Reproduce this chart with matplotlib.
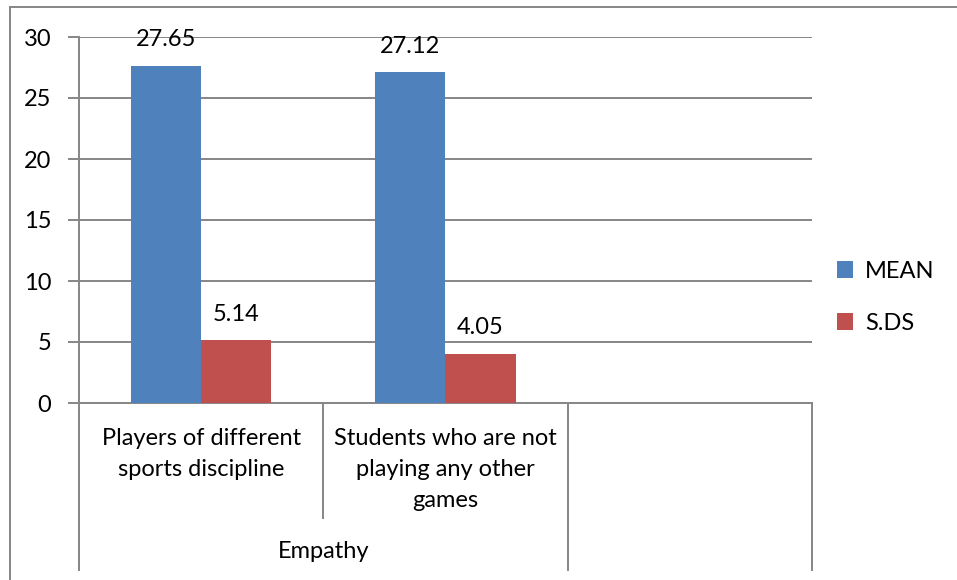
import matplotlib
matplotlib.use("Agg")
import matplotlib.pyplot as plt
from matplotlib.lines import Line2D
import matplotlib.transforms as mtransforms

plt.rcParams['font.family'] = ['Lato', 'DejaVu Sans']

categories = ["Players of different\nsports discipline",
              "Students who are not\nplaying any other\ngames",
              ""]
group_label = "Empathy"
mean = [27.65, 27.12]
sds = [5.14, 4.05]
series_names = ["MEAN", "S.DS"]
yticks = [0, 5, 10, 15, 20, 25, 30]

W, H = 957, 580
fig = plt.figure(figsize=(W / 100, H / 100), dpi=100)

# axes placed in pixel terms
L, R, T, B = 79, 812, 37, 403
ax = fig.add_axes([L / W, (H - B) / H, (R - L) / W, (B - T) / H])

grey = "#868686"
blue = "#4F81BD"
red = "#C0504D"
bw = 0.287
fs = 17

xs = list(range(len(mean)))
b1 = ax.bar([x - bw / 2 for x in xs], mean, width=bw, color=blue, label=series_names[0], zorder=3)
b2 = ax.bar([x + bw / 2 for x in xs], sds, width=bw, color=red, label=series_names[1], zorder=3)

for bars, vals in ((b1, mean), (b2, sds)):
    for rect, v in zip(bars, vals):
        ax.annotate("%.2f" % v, (rect.get_x() + rect.get_width() / 2, v),
                    xytext=(0, 11), textcoords="offset points",
                    ha="center", va="bottom", fontsize=fs)

ax.set_xlim(-0.5, 2.5)
ax.set_ylim(0, 30)
ax.set_yticks(yticks)
ax.set_yticklabels([str(t) for t in yticks], fontsize=fs)
ax.yaxis.grid(True, color=grey, linewidth=1.4, zorder=0)
ax.tick_params(axis="y", length=8, width=1.4, color=grey, pad=12)
ax.set_xticks([])
for s in ("top", "right"):
    ax.spines[s].set_visible(False)
ax.spines["left"].set_color(grey)
ax.spines["left"].set_linewidth(1.4)
ax.spines["bottom"].set_color(grey)
ax.spines["bottom"].set_linewidth(1.4)

# category separators and labels below the axis
trans = mtransforms.blended_transform_factory(ax.transData, ax.transAxes)
def ay(py):
    return (B - py) / (B - T)

for x, bottom in ((-0.5, 570), (0.5, 518), (1.5, 570), (2.5, 570)):
    ax.add_line(Line2D([x, x], [0, ay(bottom)], transform=trans, color=grey,
                       linewidth=1.4, clip_on=False))

for i, c in enumerate(categories):
    ax.text(i, ay(428), c, transform=trans, ha="center", va="top",
            fontsize=fs, linespacing=1.6)
ax.text(0.5, ay(552), group_label, transform=trans, ha="center", va="center", fontsize=fs)

leg = ax.legend(loc="center left", bbox_to_anchor=(1.005, 0.289), frameon=False,
                fontsize=fs, handlelength=0.7, handleheight=0.7,
                labelspacing=1.3, handletextpad=0.5)

# outer chart frame
fig.add_artist(Line2D([10 / W, 1], [1 - 7 / H, 1 - 7 / H], color=grey, linewidth=1.4))
fig.add_artist(Line2D([10 / W, 10 / W], [0, 1 - 7 / H], color=grey, linewidth=1.4))

fig.savefig("out.png", dpi=100)
